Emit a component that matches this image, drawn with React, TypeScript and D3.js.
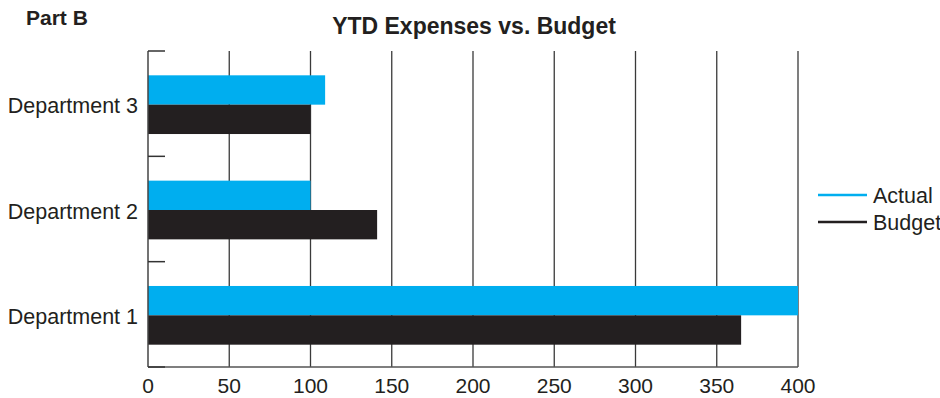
import React from "react";
import * as d3 from "d3";

const departments = ["Department 3", "Department 2", "Department 1"];
const actual = [109, 100, 400];
const budget = [100, 141, 365];
const xTicks = [0, 50, 100, 150, 200, 250, 300, 350, 400];
const seriesNames = ["Actual", "Budget"];

const W = 940;
const H = 398;
const FONT = "'Liberation Sans', Arial, Helvetica, sans-serif";
const BLUE = "#00AEEF";
const BLACK = "#231F20";

const App: React.FC = () => {
  const left = 148;
  const right = 798;
  const top = 51;
  const bottom = 367;

  const x = d3.scaleLinear().domain([0, 400]).range([left, right]);
  const y = d3.scaleBand<string>().domain(departments).range([top, bottom]);
  // two bars per band, ~30px each, centred a touch low like the original
  const inner = d3.scaleBand<string>().domain(seriesNames).range([2, y.bandwidth()]).paddingInner(0).paddingOuter(0.76);

  const rows = departments.map((d, i) => ({ name: d, actual: actual[i], budget: budget[i] }));

  return (
    <div style={{ position: "absolute", left: 0, top: 0 }}>
      <svg width={W} height={H} style={{ display: "block", fontFamily: FONT }}>
        <rect width={W} height={H} fill="#fff" />
        <text x={26} y={25} fontSize={21} fontWeight="bold" fill={BLACK}>Part B</text>
        <text x={474} y={34} fontSize={23} fontWeight="bold" textAnchor="middle" fill={BLACK}>
          YTD Expenses vs. Budget
        </text>

        {/* gridlines */}
        {xTicks.slice(1).map((t) => (
          <line key={t} x1={x(t)} x2={x(t)} y1={top} y2={bottom} stroke="#3a3a3a" strokeWidth={1.3} />
        ))}

        {/* bars */}
        {rows.map((r) => {
          const y0 = y(r.name)!;
          return (
            <g key={r.name}>
              <rect x={x(0)} y={y0 + inner("Actual")!} width={x(r.actual) - x(0)} height={inner.bandwidth()} fill={BLUE} />
              <rect x={x(0)} y={y0 + inner("Budget")!} width={x(r.budget) - x(0)} height={inner.bandwidth()} fill={BLACK} />
            </g>
          );
        })}

        {/* axes */}
        <line x1={left} x2={left} y1={top} y2={bottom} stroke="#444" strokeWidth={1.5} />
        <line x1={left} x2={right} y1={bottom} y2={bottom} stroke="#555" strokeWidth={1.5} />
        {[...departments.map((d) => y(d)!), bottom].map((v, i) => (
          <line key={i} x1={left} x2={left + 17} y1={v} y2={v} stroke="#333" strokeWidth={1.5} />
        ))}

        {/* category labels */}
        {departments.map((d) => (
          <text key={d} x={138} y={y(d)! + inner("Budget")! + 8.5} fontSize={21.5} textAnchor="end" fill={BLACK}>
            {d}
          </text>
        ))}

        {/* x tick labels */}
        {xTicks.map((t) => (
          <text key={t} x={x(t)} y={393} fontSize={21} textAnchor="middle" fill={BLACK}>
            {t}
          </text>
        ))}

        {/* legend */}
        {seriesNames.map((s, i) => (
          <g key={s} transform={`translate(818, ${195 + i * 27})`}>
            <line x1={0} x2={49} y1={0} y2={0} stroke={i === 0 ? BLUE : BLACK} strokeWidth={2.5} />
            <text x={55} y={8} fontSize={21.5} fill={BLACK}>{s}</text>
          </g>
        ))}
      </svg>
    </div>
  );
};

export default App;
